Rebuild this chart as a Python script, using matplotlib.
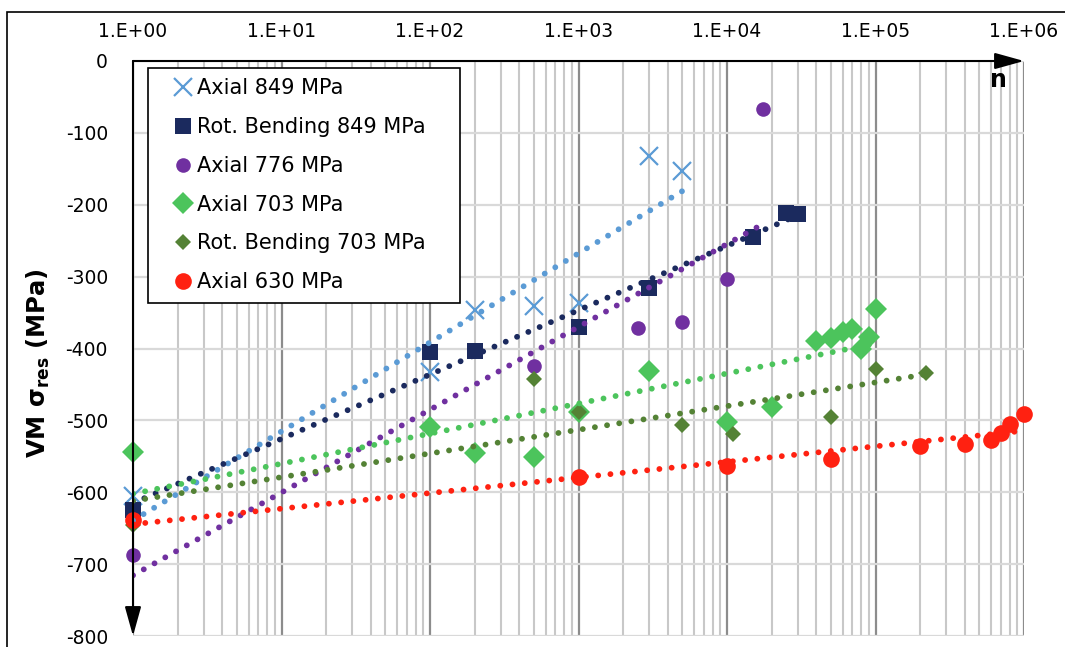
import numpy as np
import matplotlib
matplotlib.use('Agg')
import matplotlib.pyplot as plt
from matplotlib.patches import Rectangle
from matplotlib.ticker import LogLocator, NullFormatter

plt.rcParams['font.family'] = ['DejaVu Sans']

# ---------------- data ----------------
series_labels = ['Axial 849 MPa', 'Rot. Bending 849 MPa', 'Axial 776 MPa',
                 'Axial 703 MPa', 'Rot. Bending 703 MPa', 'Axial 630 MPa']

n_ax849 = [1, 100, 200, 500, 1000, 3000, 5000]
s_ax849 = [-605, -433, -346, -341, -337, -132, -153]

n_rb849 = [1, 100, 200, 1000, 3000, 15000, 25000, 30000]
s_rb849 = [-625, -405, -403, -370, -316, -245, -212, -213]

n_ax776 = [1, 500, 2500, 5000, 10000, 17500]
s_ax776 = [-687, -424, -371, -363, -303, -67]

n_ax703 = [1, 100, 200, 500, 1000, 3000, 10000, 20000, 40000, 50000,
           60000, 70000, 80000, 90000, 100000]
s_ax703 = [-544, -509, -545, -551, -489, -431, -502, -481, -390, -385,
           -377, -373, -401, -384, -345]

n_rb703 = [1, 500, 1000, 5000, 11000, 50000, 100000, 220000]
s_rb703 = [-645, -442, -488, -506, -519, -495, -428, -434]

n_ax630 = [1, 1000, 10000, 50000, 200000, 400000, 600000, 700000, 800000, 1000000]
s_ax630 = [-639, -579, -563, -554, -536, -533, -527, -518, -505, -491]

x_tick_values = [1, 10, 100, 1000, 10000, 100000, 1000000]
x_tick_labels = ['1.E+00', '1.E+01', '1.E+02', '1.E+03', '1.E+04', '1.E+05', '1.E+06']
y_tick_values = [0, -100, -200, -300, -400, -500, -600, -700, -800]
y_tick_labels = ['0', '-100', '-200', '-300', '-400', '-500', '-600', '-700', '-800']

# ---------------- styles ----------------
styles = [
    dict(color='#5B9BD5', marker='x', ms=13, mew=1.6),
    dict(color='#1B2A5E', marker='s', ms=11, mew=0),
    dict(color='#7030A0', marker='o', ms=10.5, mew=0),
    dict(color='#4CC45C', marker='D', ms=11, mew=0),
    dict(color='#548235', marker='D', ms=7.8, mew=0),
    dict(color='#FF2111', marker='o', ms=12, mew=0),
]
data = [(n_ax849, s_ax849), (n_rb849, s_rb849), (n_ax776, s_ax776),
        (n_ax703, s_ax703), (n_rb703, s_rb703), (n_ax630, s_ax630)]

W, H = 1065, 647
fig = plt.figure(figsize=(W / 100, H / 100), dpi=100)
ax = fig.add_axes([133 / W, 1 - 636 / H, 891 / W, 575 / H])
ax.set_xscale('log')

for (n, s), lab, st in zip(data, series_labels, styles):
    ax.plot(n, s, linestyle='none', marker=st['marker'], ms=st['ms'],
            color=st['color'], mec=st['color'], mew=st['mew'], label=lab,
            zorder=3, clip_on=False)
    # logarithmic trendline
    a, b = np.polyfit(np.log(n), s, 1)
    xs = np.logspace(0, np.log10(max(n)), 500)
    ax.plot(xs, a * np.log(xs) + b, color=st['color'], lw=4.2,
            linestyle=(0, (0.01, 2.1)), dash_capstyle='round', zorder=4,
            label='_nolegend_')

ax.set_xlim(1, 1e6)
ax.set_ylim(-800, 0)

ax.set_xticks(x_tick_values)
ax.set_xticklabels(x_tick_labels)
ax.xaxis.set_minor_locator(LogLocator(base=10, subs=np.arange(2, 10), numticks=30))
ax.xaxis.set_minor_formatter(NullFormatter())
ax.set_yticks(y_tick_values)
ax.set_yticklabels(y_tick_labels)

ax.xaxis.tick_top()
ax.tick_params(axis='x', which='both', length=0, labelsize=13.5, pad=14.5,
               top=True, bottom=False, labeltop=True, labelbottom=False)
ax.tick_params(axis='y', which='both', length=0, labelsize=13.5, pad=18)

ax.grid(True, which='major', axis='x', color='#8C8C8C', lw=1.6)
ax.grid(True, which='minor', axis='x', color='#C8C8C8', lw=1.5)
ax.grid(True, which='major', axis='y', color='#D9D9D9', lw=1.6)
ax.set_axisbelow(True)

for sp in ax.spines.values():
    sp.set_visible(False)

arrow_kw = dict(arrowstyle='-|>,head_length=1.8,head_width=0.5', color='black',
                lw=1.5, shrinkA=0, shrinkB=0, mutation_scale=10)
ax.annotate('', xy=(0, 0), xytext=(0, 1), xycoords='axes fraction',
            textcoords='axes fraction', arrowprops=arrow_kw,
            annotation_clip=False, zorder=6)
ax.annotate('', xy=(1, 1), xytext=(0, 1), xycoords='axes fraction',
            textcoords='axes fraction', arrowprops=arrow_kw,
            annotation_clip=False, zorder=6)

leg = ax.legend(loc='upper left', bbox_to_anchor=(15 / 891, 1 - 7 / 575 - 0.5, 312 / 891, 0.5),
                mode='expand', fontsize=15, frameon=True, fancybox=False,
                edgecolor='black', framealpha=1, borderpad=0.5, labelspacing=0.9,
                handlelength=2.37, handletextpad=-0.5, borderaxespad=0, numpoints=1)
leg.get_frame().set_linewidth(1.2)
leg.set_zorder(10)

fig.text(38 / W, 1 - 363 / H, 'VM σ$_{\\mathbf{res}}$ (MPa)', fontsize=17.5,
         fontweight='bold', rotation=90, ha='center', va='center')
fig.text(998 / W, 1 - 80 / H, 'n', fontsize=17, fontweight='bold',
         ha='center', va='center')

fig.patches.append(Rectangle((7 / W, -0.5), 2, 0.5 + 1 - 12 / H,
                             transform=fig.transFigure, fill=False,
                             edgecolor='black', lw=1.2))

fig.savefig('out.png', dpi=100)
